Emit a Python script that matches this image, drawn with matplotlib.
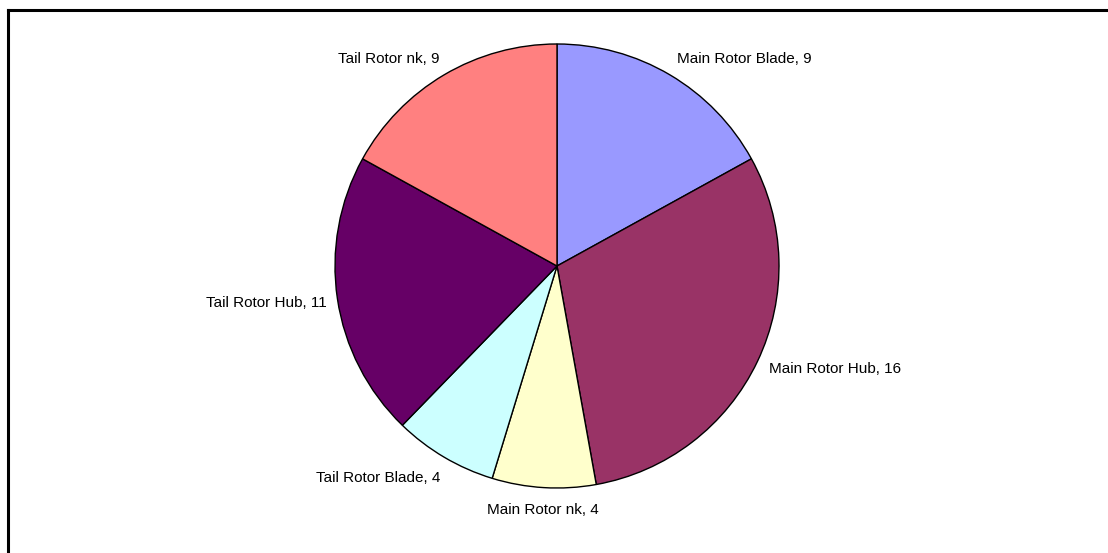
import numpy as np
import matplotlib.pyplot as plt
from matplotlib.lines import Line2D

plt.rcParams["font.family"] = ["Liberation Sans", "DejaVu Sans"]

parts = ["Main Rotor Blade", "Main Rotor Hub", "Main Rotor nk",
         "Tail Rotor Blade", "Tail Rotor Hub", "Tail Rotor nk"]
counts = [9, 16, 4, 4, 11, 9]
colors = ["#9999FF", "#993366", "#FFFFCC", "#CCFFFF", "#660066", "#FF8080"]

W, H = 1108, 553
fig = plt.figure(figsize=(W / 100, H / 100), dpi=100)

# pie centre and radius in pixels
cx, cy, r = 557, 266, 222
ax = fig.add_axes([(cx - r) / W, (H - cy - r) / H, 2 * r / W, 2 * r / H])

wedges, _ = ax.pie(counts, colors=colors, startangle=90, counterclock=False,
                   radius=1.0, wedgeprops=dict(edgecolor="black", linewidth=1.0))
ax.set_xlim(-1, 1)
ax.set_ylim(-1, 1)
ax.set_aspect("equal")
ax.axis("off")

for w, name, n in zip(wedges, parts, counts):
    mid = np.radians((w.theta1 + w.theta2) / 2)
    c, s = np.cos(mid), np.sin(mid)
    ha = "left" if c > 0.1 else ("right" if c < -0.1 else "center")
    va = "bottom" if s > 0.5 else ("top" if s < -0.5 else "center")
    dx = 0.012 if c < -0.1 else 0.0
    ax.text(1.06 * c + dx, 1.06 * s - 0.01, f"{name}, {n}", ha=ha, va=va,
            fontsize=11, color="black", clip_on=False)

# chart frame (top and left edges)
fig.add_artist(Line2D([8 / W, 1], [1 - 10 / H, 1 - 10 / H], color="black",
                      lw=2.2, transform=fig.transFigure))
fig.add_artist(Line2D([8 / W, 8 / W], [0, 1 - 10 / H], color="black",
                      lw=2.2, transform=fig.transFigure))

fig.savefig("out.png", dpi=100, facecolor="white")
